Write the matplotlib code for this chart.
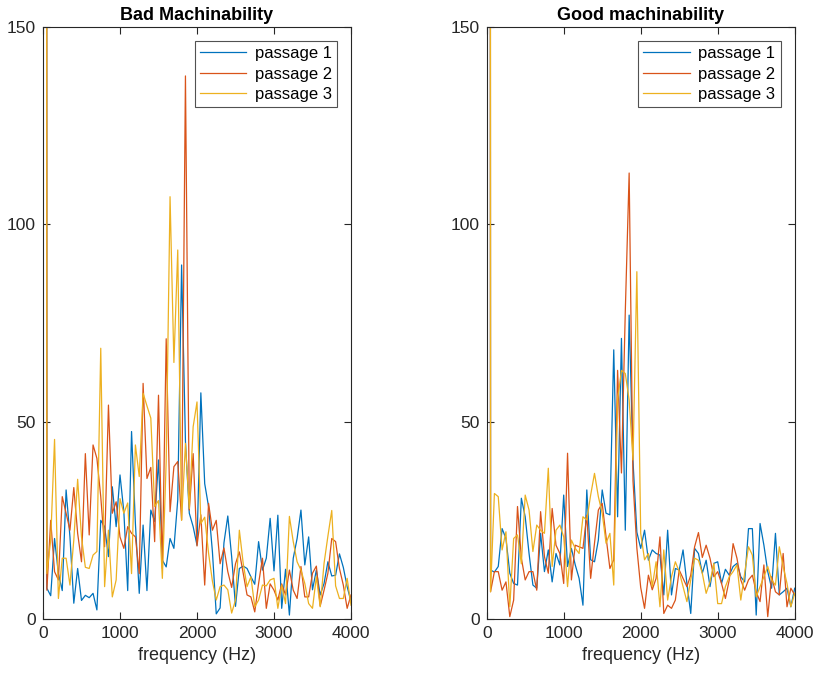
import numpy as np
import matplotlib
matplotlib.use("Agg")
import matplotlib.pyplot as plt

plt.rcParams['font.family'] = ['Liberation Sans', 'DejaVu Sans']

# Frequency grid (Hz), 50 Hz bins from 0 to 4000
freq_step = 50.0
n_bins = 81
freq = np.arange(n_bins) * freq_step

# Spectrum magnitudes, bad machinability
bad_passage1 = [3500,
    7.8, 5.9, 20.4, 11.5, 7.2, 32.7, 20.8, 4, 12.8, 4.7, 6, 5.4, 6.5, 2.3, 25, 23.4, 15.8,
    33.5, 23.4, 36.5, 27.2, 7.2, 47.5, 24.2, 6.5, 23.8,
    7.2, 27.6, 24.7, 40.3, 14.9, 13.2, 20.4, 17.9, 30.2, 89.7, 45, 26.8, 23.4, 18.7, 57.3,
    34.3, 28.5, 17.1, 1.3, 2.8, 19.3, 26.1, 15.8, 3.2, 12.8, 13.4, 12.8, 10.7, 8.8,
    19.6, 12.4, 15.4, 25.5, 12.2, 26.3, 2.7, 12.6, 1.0, 15.4, 20.4, 27.6, 13.7, 20.8, 7.4,
    12.4, 6.1, 9.0, 14.5, 10.9, 11.1, 16.5, 13.1, 8.2, 4.4]
bad_passage2 = [3800,
    7.3, 25, 12, 9.9, 31, 26.8, 22.5, 33.3, 21.7, 14.5, 41.9, 21.3, 44.1, 40.7, 31, 18.3,
    54.2, 26.8, 29.7, 20.8, 17.9, 23.4, 21.7, 20.8, 11.5, 59.7,
    35.6, 38.4, 19.6, 56.7, 12.8, 71, 27.2, 38.6, 39.9, 25.1, 137.6, 27.6, 41.9, 18.5, 26.4,
    8.6, 29.3, 22.5, 25, 14, 18, 12, 8, 14, 17, 11.6, 6.1, 5.6, 1.8,
    9, 15.4, 2.7, 8.9, 7.3, 4.8, 8.9, 6.1, 12.4, 7.3, 5.2, 13.3, 5.6, 5.6, 11.6,
    13.4, 3.3, 7.3, 11.6, 20.4, 19.6, 12.8, 8.6, 2.7, 6.1]
bad_passage3 = [4000,
    11.5, 20, 45.5, 5.2, 15.4, 15.4, 8.6, 20, 35.4, 20.8, 13.1, 12.8, 16.2, 17.1, 68.6, 8.2,
    22.5, 5.6, 9.9, 30.5, 26.8, 29.4, 11.5, 44.1, 36.1, 57.2,
    54, 50.9, 28.5, 30, 10.3, 40, 107, 65, 93.5, 25, 44.5, 28, 48.7, 55, 24.2,
    25.8, 16.7, 9.6, 4.8, 8.2, 8.6, 7.4, 1.5, 4.8, 22.5, 14.1, 8.2, 10.7, 3.1,
    4.8, 8.6, 8.4, 9.9, 10.3, 2.7, 8.6, 3.9, 26, 19.6, 14.5, 12.4, 9, 3.9, 2.7,
    10.7, 3.1, 14.1, 21, 27.5, 8.4, 5.2, 5.2, 10.3, 3.5]

# Spectrum magnitudes, good machinability
good_passage1 = [3500,
    12.4, 11.9, 13.3, 22.9, 20.4, 11.6, 9, 8.6, 30.6, 25.9, 16.6, 8.6, 7.8, 21.7, 12, 17.5,
    9.4, 16.6, 13.7, 31.4, 13.3, 17.9, 13.7, 10.3, 3.5, 32.7,
    15, 14.5, 20, 32.7, 26.8, 26.4, 68.2, 25.9, 71.1, 22.5, 77, 40, 22, 17.9, 22.5,
    14.9, 17.5, 16.6, 16.2, 6.1, 22.5, 6.1, 12.8, 12.4, 17.5, 9, 1.4, 17.9, 16.6,
    11.6, 14.9, 8.2, 14.1, 14.5, 9, 12.6, 11.1, 13.3, 14.1, 10.7, 9.4, 22.9, 22.9, 1,
    24.2, 18.7, 12, 7.8, 21.7, 6.1, 6.9, 7.8, 3.1, 7.8]
good_passage2 = [3800,
    6.9, 12, 12, 7.3, 9.4, 0.6, 4.8, 28.5, 15.4, 9.9, 12, 12, 7.3, 27.2, 15.8, 11.6,
    28, 18.7, 16.6, 9, 42, 9.9, 18.7, 18.3, 17.9, 26.3,
    10.3, 19.2, 27.6, 29.3, 20.8, 12.8, 15, 63, 37, 78, 113, 35, 18, 8, 2.7,
    11.1, 7.4, 10.3, 20.8, 1.4, 3.5, 2.7, 4.8, 12.4, 10.3, 8.2, 11.1, 18.3, 21.9,
    15.6, 18.7, 15.4, 10.7, 12, 9, 5.2, 9.9, 19.1, 15.4, 9.9, 7.3, 9.9, 11.1, 6.9,
    4.4, 13.7, 0.6, 10.7, 6.9, 6.1, 16.6, 3.1, 7.8, 6.1]
good_passage3 = [4000,
    6.9, 31.8, 31, 17.5, 22.1, 3.1, 20.4, 21.3, 14, 31.4, 27.6, 17.1, 23.8, 22.5, 21.7, 38.2,
    13.3, 22.5, 23.8, 20.8, 8.2, 20, 17.9, 16.6, 25.9, 25.1,
    31.4, 36.9, 31, 26.8, 19.2, 21.7, 8.6, 55.5, 63, 62.2, 55.5, 40.3, 88, 21.7, 15,
    16.6, 8.2, 14.5, 3.1, 17.5, 4.8, 10.7, 14.5, 12, 8.2, 4.4, 9.9, 15.4, 14.9,
    11.6, 6.5, 9.4, 14.1, 3.9, 3.9, 8.2, 10.7, 12, 13.7, 4.8, 11.6, 18.3, 16.2, 5.6,
    8.2, 10.7, 13.3, 9.9, 8.6, 18.3, 13.3, 9, 3.1, 6.5]

titles = ["Bad Machinability", "Good machinability"]
legend_labels = ["passage 1", "passage 2", "passage 3"]
x_ticks = [0, 1000, 2000, 3000, 4000]
y_ticks = [0, 50, 100, 150]

colors = ["#0072BD", "#D95319", "#EDB120"]
axis_color = "#262626"

W, H = 814, 674
fig = plt.figure(figsize=(W / 100, H / 100), dpi=100)

panels = [
    (43, [bad_passage1, bad_passage2, bad_passage3], titles[0]),
    (486.7, [good_passage1, good_passage2, good_passage3], titles[1]),
]

for left_px, series, title in panels:
    ax = fig.add_axes([left_px / W, (H - 619) / H, 308 / W, 592 / H])
    for vals, c, lab in zip(series, colors, legend_labels):
        ax.plot(freq, vals, color=c, lw=0.9, label=lab)
    ax.set_xlim(0, 4000)
    ax.set_ylim(0, 150)
    ax.set_xticks(x_ticks)
    ax.set_yticks(y_ticks)
    ax.tick_params(direction="in", length=5, width=0.8, top=True, right=True,
                   labelsize=12.5, colors=axis_color, pad=5)
    for sp in ax.spines.values():
        sp.set_color(axis_color)
        sp.set_linewidth(0.8)
    ax.set_title(title, fontsize=13, fontweight="bold", color="black", pad=5)
    ax.set_xlabel("frequency (Hz)", fontsize=13, color=axis_color, labelpad=4)
    leg = ax.legend(loc="upper right", fontsize=12, frameon=True, fancybox=False,
                    handlelength=2.8, handletextpad=0.5, borderpad=0.3,
                    labelspacing=0.33, borderaxespad=0.85)
    leg.get_frame().set_edgecolor(axis_color)
    leg.get_frame().set_linewidth(0.8)

fig.savefig("out.png", dpi=100)
